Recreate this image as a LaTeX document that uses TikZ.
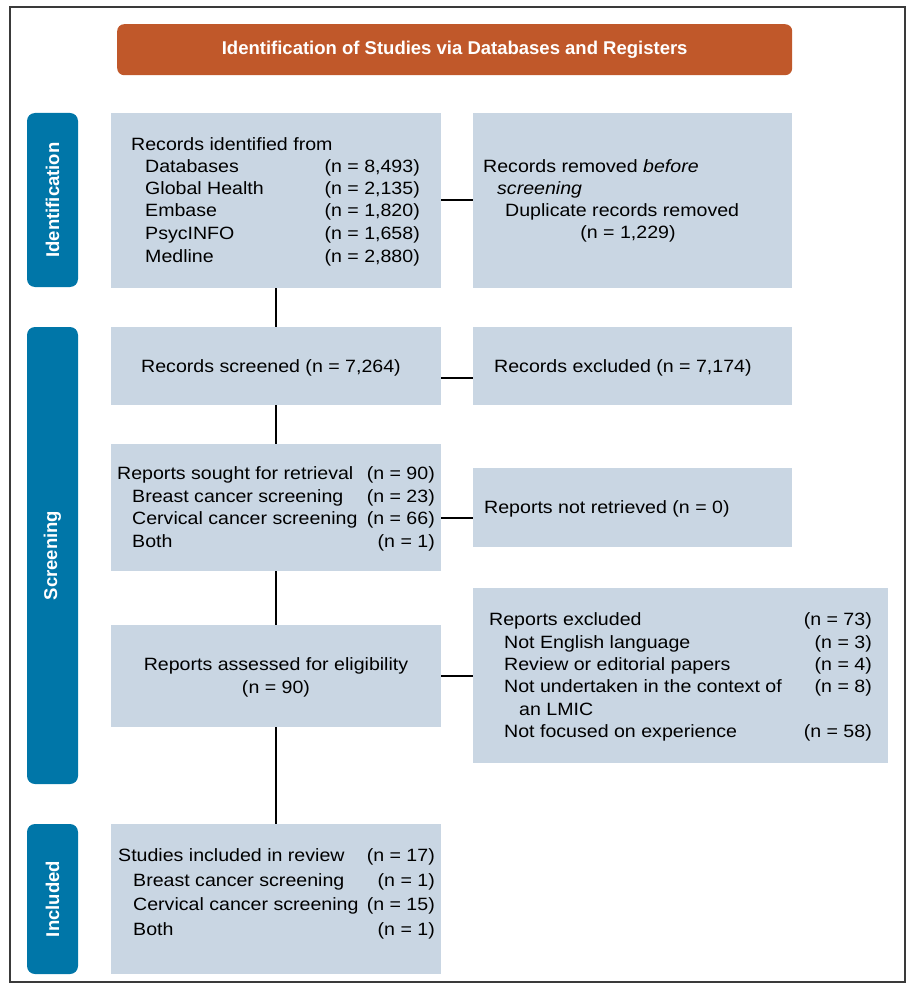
\documentclass[tikz,border=0pt]{standalone}
\usepackage{fontspec}
\setmainfont{Liberation Sans}
\newfontfamily\wfont[FakeStretch=1.1]{Liberation Sans}
\definecolor{boxc}{HTML}{C9D6E3}
\definecolor{tabc}{HTML}{0076A8}
\definecolor{titlec}{HTML}{C0582A}
\definecolor{framec}{HTML}{3A3A3A}
\begin{document}
\begin{tikzpicture}[x=1pt,y=-1pt,
  box/.style={fill=boxc, draw=none, anchor=north west, inner sep=0pt, outer sep=0pt},
  tabbox/.style={fill=tabc, draw=none, rounded corners=8pt, anchor=north west, inner sep=0pt, outer sep=0pt},
  tablabel/.style={text=white, font=\fontsize{18.5}{22}\selectfont\bfseries, rotate=90, inner sep=0pt},
  titlebox/.style={fill=titlec, draw=none, rounded corners=7pt, anchor=north west, inner sep=0pt,
    text=white, font=\fontsize{18.5}{22}\selectfont\bfseries},
  txt/.style={anchor=base west, inner sep=0pt, font=\wfont\fontsize{17.8}{22}\selectfont},
  num/.style={anchor=base east, inner sep=0pt, font=\wfont\fontsize{17.8}{22}\selectfont},
  ctxt/.style={anchor=base, inner sep=0pt, font=\wfont\fontsize{17.8}{22}\selectfont},
  conn/.style={draw=black, line width=1.6pt}]
\useasboundingbox (0,0) rectangle (909,984);
\draw[framec, line width=1.8pt] (10,7) rectangle (905,982);

% title
\node[titlebox, minimum width=675pt, minimum height=51pt] (title) at (117,24) {Identification of Studies via Databases and Registers};

% side tabs
\node[tabbox, minimum width=51pt, minimum height=174pt] (tabI) at (27,113) {};
\node[tabbox, minimum width=51pt, minimum height=457pt] (tabS) at (27,327) {};
\node[tabbox, minimum width=51pt, minimum height=150pt] (tabN) at (27,824) {};
\node[tablabel] (labI) at (tabI.center) {Identification};
\node[tablabel] (labS) at (tabS.center) {Screening};
\node[tablabel] (labN) at (tabN.center) {Included};

% boxes
\node[box, minimum width=330pt, minimum height=175pt] (b1) at (111,113) {};
\node[box, minimum width=319pt, minimum height=175pt] (b2) at (473,113) {};
\node[box, minimum width=330pt, minimum height=78pt] (b3) at (111,327) {};
\node[box, minimum width=319pt, minimum height=78pt] (b4) at (473,327) {};
\node[box, minimum width=330pt, minimum height=127pt] (b5) at (111,444) {};
\node[box, minimum width=319pt, minimum height=79pt] (b6) at (473,468) {};
\node[box, minimum width=330pt, minimum height=102pt] (b7) at (111,625) {};
\node[box, minimum width=415pt, minimum height=175pt] (b8) at (473,588) {};
\node[box, minimum width=330pt, minimum height=150pt] (b9) at (111,824) {};

% connectors
\coordinate (h1) at (0,200);
\coordinate (h2) at (0,378);
\coordinate (h3) at (0,518);
\coordinate (h4) at (0,676);
\draw[conn] (b1.south) -- (b3.north);
\draw[conn] (b3.south) -- (b5.north);
\draw[conn] (b5.south) -- (b7.north);
\draw[conn] (b7.south) -- (b9.north);
\draw[conn] (b1.east |- h1) -- (b2.west |- h1);
\draw[conn] (b3.east |- h2) -- (b4.west |- h2);
\draw[conn] (b5.east |- h3) -- (b6.west |- h3);
\draw[conn] (b7.east |- h4) -- (b8.west |- h4);

% box 1 text
\node[txt] (t1a) at (131,151) {Records identified from};
\node[txt] (t1b) at (145,173) {Databases};
\node[num] (n1b) at (420,173) {(n = 8,493)};
\node[txt] (t1c) at (145,195) {Global Health};
\node[num] (n1c) at (420,195) {(n = 2,135)};
\node[txt] (t1d) at (145,217) {Embase};
\node[num] (n1d) at (420,217) {(n = 1,820)};
\node[txt] (t1e) at (145,240) {PsycINFO};
\node[num] (n1e) at (420,240) {(n = 1,658)};
\node[txt] (t1f) at (145,262) {Medline};
\node[num] (n1f) at (420,262) {(n = 2,880)};

% box 2 text
\node[txt] (t2a) at (483,173) {Records removed \textit{before}};
\node[txt] (t2b) at (497,195) {\textit{screening}};
\node[txt] (t2c) at (505,217) {Duplicate records removed};
\node[ctxt] (t2d) at (628,239) {(n = 1,229)};

% box 3, 4
\node[txt] (t3) at (141,372) {Records screened (n = 7,264)};
\node[txt] (t4) at (494,372) {Records excluded (n = 7,174)};

% box 5
\node[txt] (t5a) at (117,479) {Reports sought for retrieval};
\node[num] (n5a) at (435,479) {(n = 90)};
\node[txt] (t5b) at (132,502) {Breast cancer screening};
\node[num] (n5b) at (435,502) {(n = 23)};
\node[txt] (t5c) at (132,524) {Cervical cancer screening};
\node[num] (n5c) at (435,524) {(n = 66)};
\node[txt] (t5d) at (132,547) {Both};
\node[num] (n5d) at (435,547) {(n = 1)};

% box 6
\node[txt] (t6) at (484,513) {Reports not retrieved (n = 0)};

% box 7
\node[ctxt] (t7a) at (276,670) {Reports assessed for eligibility};
\node[ctxt] (t7b) at (276,693) {(n = 90)};

% box 8
\node[txt] (t8a) at (489,625) {Reports excluded};
\node[num] (n8a) at (872,625) {(n = 73)};
\node[txt] (t8b) at (504,648) {Not English language};
\node[num] (n8b) at (872,648) {(n = 3)};
\node[txt] (t8c) at (504,670) {Review or editorial papers};
\node[num] (n8c) at (872,670) {(n = 4)};
\node[txt] (t8d) at (504,692) {Not undertaken in the context of};
\node[num] (n8d) at (872,692) {(n = 8)};
\node[txt] (t8e) at (519,715) {an LMIC};
\node[txt] (t8f) at (504,737) {Not focused on experience};
\node[num] (n8f) at (872,737) {(n = 58)};

% box 9
\node[txt] (t9a) at (118,861) {Studies included in review};
\node[num] (n9a) at (435,861) {(n = 17)};
\node[txt] (t9b) at (133,886) {Breast cancer screening};
\node[num] (n9b) at (435,886) {(n = 1)};
\node[txt] (t9c) at (133,910) {Cervical cancer screening};
\node[num] (n9c) at (435,910) {(n = 15)};
\node[txt] (t9d) at (133,935) {Both};
\node[num] (n9d) at (435,935) {(n = 1)};
\end{tikzpicture}
\end{document}
